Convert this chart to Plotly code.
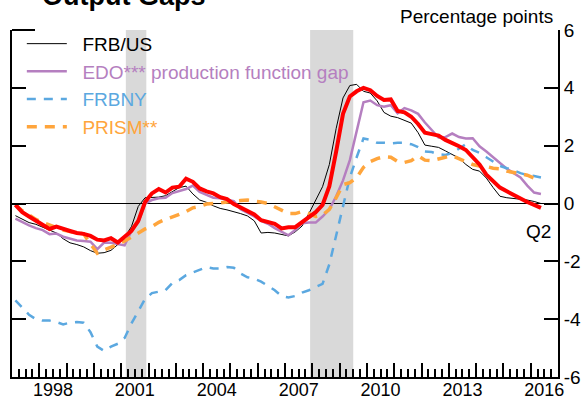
import plotly.graph_objects as go

# Quarterly data 1997Q1 .. 2016Q2
quarters = [f"{y}Q{q}" for y in range(1997, 2017) for q in range(1, 5)][:78]

frbus = [-0.42, -0.55, -0.66, -0.72, -0.82, -0.90, -1.02, -1.22, -1.36, -1.42, -1.50, -1.63,
         -1.72, -1.70, -1.62, -1.42, -1.17, -0.80, -0.10, 0.20, 0.20, 0.22, 0.27, 0.42,
         0.55, 0.60, 0.33, 0.12, 0.04, -0.08, -0.17, -0.22, -0.28, -0.35, -0.43, -0.60,
         -1.02, -1.00, -1.02, -1.06, -1.12, -0.98, -0.78, -0.35, 0.10, 0.58, 1.35, 2.60,
         3.65, 4.08, 4.12, 3.88, 3.82, 3.55, 3.15, 3.02, 2.97, 2.88, 2.78, 2.45,
         2.02, 1.98, 1.94, 1.82, 1.70, 1.57, 1.35, 1.18, 1.12, 0.88, 0.55, 0.25,
         0.20, 0.18, 0.14, 0.12, 0.07, 0.00]

edo = [-0.52, -0.65, -0.76, -0.85, -0.92, -1.06, -1.04, -1.15, -1.22, -1.28, -1.30, -1.32,
       -1.58, -1.35, -1.36, -1.40, -1.45, -0.95, -0.65, 0.00, 0.12, 0.18, 0.20, 0.36,
       0.44, 0.50, 0.62, 0.40, 0.30, 0.20, 0.18, 0.12, 0.08, -0.20, -0.32, -0.45,
       -0.60, -0.70, -0.85, -0.98, -1.10, -0.92, -0.68, -0.66, -0.66, -0.45, -0.20, 0.25,
       0.80, 1.50, 2.50, 3.50, 3.56, 3.40, 3.35, 3.40, 3.12, 3.30, 3.22, 3.10,
       2.80, 2.55, 2.28, 2.30, 2.42, 2.30, 2.25, 2.26, 1.98, 1.80, 1.60, 1.38,
       1.20, 1.05, 0.90, 0.62, 0.38, 0.33]

frbny = [-3.35, -3.60, -3.85, -4.00, -4.05, -4.05, -4.10, -4.18, -4.12, -4.10, -4.12, -4.45,
         -4.95, -5.10, -4.95, -4.85, -4.65, -4.15, -3.70, -3.30, -3.10, -3.05, -3.00, -2.75,
         -2.65, -2.48, -2.38, -2.30, -2.20, -2.25, -2.25, -2.20, -2.22, -2.42, -2.55, -2.60,
         -2.70, -2.85, -3.00, -3.20, -3.25, -3.20, -3.08, -3.00, -2.90, -2.78, -2.10, -1.10,
         -0.20, 0.90, 1.60, 2.25, 2.20, 2.10, 2.10, 2.08, 2.10, 2.10, 2.05, 1.95,
         1.80, 1.78, 1.70, 1.68, 1.75, 1.90, 2.05, 1.85, 1.75, 1.60, 1.45, 1.30,
         1.22, 1.15, 1.05, 0.98, 0.95, 0.90]

prism = [-0.05, -0.25, -0.40, -0.55, -0.65, -0.75, -0.85, -0.92, -0.97, -1.00, -1.05, -1.40,
         -1.72, -1.60, -1.52, -1.42, -1.30, -1.15, -1.00, -0.88, -0.80, -0.65, -0.55, -0.48,
         -0.38, -0.28, -0.15, -0.10, -0.02, 0.00, 0.03, 0.06, 0.08, 0.10, 0.12, 0.10,
         0.05, 0.00, -0.12, -0.25, -0.35, -0.35, -0.28, -0.35, -0.45, -0.40, -0.20, 0.20,
         0.65, 0.72, 0.90, 1.25, 1.45, 1.55, 1.62, 1.60, 1.45, 1.42, 1.48, 1.65,
         1.50, 1.48, 1.55, 1.60, 1.65, 1.55, 1.45, 1.35, 1.30, 1.28, 1.22, 1.20,
         1.12, 1.07, 1.02, 0.98, 0.88, 0.80]

composite = [-0.05, -0.30, -0.45, -0.60, -0.72, -0.88, -0.80, -0.86, -0.95, -1.02, -1.05, -1.12,
             -1.25, -1.28, -1.20, -1.35, -1.17, -0.95, -0.60, 0.05, 0.35, 0.50, 0.38, 0.55,
             0.58, 0.86, 0.75, 0.52, 0.42, 0.35, 0.22, 0.15, -0.02, -0.15, -0.28, -0.38,
             -0.58, -0.65, -0.70, -0.86, -0.82, -0.82, -0.65, -0.50, -0.30, -0.05, 0.60, 1.80,
             3.10, 3.70, 3.88, 4.00, 3.92, 3.72, 3.58, 3.60, 3.20, 3.15, 3.00, 2.75,
             2.45, 2.40, 2.35, 2.20, 2.10, 1.98, 1.85, 1.62, 1.35, 1.00, 0.75, 0.55,
             0.42, 0.30, 0.15, 0.05, -0.05, -0.15]

recessions = [(2001.17, 2001.92), (2007.92, 2009.5)]
year_labels = ["1998", "2001", "2004", "2007", "2010", "2013", "2016"]
y_ticks = [6, 4, 2, 0, -2, -4, -6]
y_ticktext = ["6", "4", "2", "0", "-2", "-4", "-6"]

# decimal-year position of each quarter (mid-quarter)
xq = [int(q[:4]) + (int(q[5]) - 0.5) / 4 for q in quarters]

C_BLACK = "#000000"
C_PURPLE = "#b57fc0"
C_BLUE = "#5ba8e0"
C_ORANGE = "#ffa53c"
C_RED = "#ff0000"

FONT = "Liberation Sans, Arial, sans-serif"
PAD = "&nbsp;&nbsp;"

fig = go.Figure()

fig.add_trace(go.Scatter(x=xq, y=frbus, mode="lines",
                         line=dict(color=C_BLACK, width=1),
                         name=f'{PAD}<span style="color:{C_BLACK}">FRB/US</span>'))
fig.add_trace(go.Scatter(x=xq, y=edo, mode="lines",
                         line=dict(color=C_PURPLE, width=2.5),
                         name=f'{PAD}<span style="color:{C_PURPLE}">EDO*** production function gap</span>'))
fig.add_trace(go.Scatter(x=xq, y=frbny, mode="lines",
                         line=dict(color=C_BLUE, width=2.5, dash="9px,8px"),
                         name=f'{PAD}<span style="color:{C_BLUE}">FRBNY</span>'))
fig.add_trace(go.Scatter(x=xq, y=prism, mode="lines",
                         line=dict(color=C_ORANGE, width=3.5, dash="10px,8px"),
                         name=f'{PAD}<span style="color:{C_ORANGE}">PRISM**</span>'))
fig.add_trace(go.Scatter(x=xq, y=composite, mode="lines",
                         line=dict(color=C_RED, width=4), showlegend=False))
# invisible trace to activate xaxis2 (labels at mid-year)
fig.add_trace(go.Scatter(x=[1997, 2017], y=[None, None], xaxis="x2", showlegend=False,
                         hoverinfo="skip"))

for (a, b) in recessions:
    fig.add_shape(type="rect", xref="x", yref="paper", x0=a, x1=b, y0=0, y1=1,
                  fillcolor="#d9d9d9", line=dict(width=0), layer="below")

# longer top-left tick
fig.add_shape(type="line", xref="paper", yref="paper", x0=0, x1=23 / 546, y0=1, y1=1,
              line=dict(color="black", width=2))

fig.update_layout(
    width=587, height=403,
    margin=dict(l=12, r=29, t=30, b=26, autoexpand=False),
    paper_bgcolor="white", plot_bgcolor="white",
    font=dict(family=FONT, size=19, color="black"),
    showlegend=True,
    legend=dict(x=0.018, y=1.015, xanchor="left", yanchor="top",
                bgcolor="rgba(0,0,0,0)", font=dict(size=19), itemwidth=40,
                tracegroupgap=0),
    xaxis=dict(range=[1997, 2017], showgrid=False, zeroline=False, automargin=False,
               showline=True, linecolor="black", linewidth=2,
               tickvals=list(range(1997, 2018)), ticktext=[""] * 21,
               ticks="inside", ticklen=14, tickwidth=2, tickcolor="black",
               minor=dict(dtick=0.25, tick0=1997, ticks="inside", ticklen=8,
                          tickwidth=1.5, tickcolor="black", showgrid=False)),
    xaxis2=dict(range=[1997, 2017], overlaying="x", anchor="y", side="bottom",
                showgrid=False, zeroline=False, showline=False, automargin=False,
                tickvals=[int(y) + 0.5 for y in year_labels], ticktext=year_labels,
                ticks="", tickfont=dict(size=18)),
    yaxis=dict(range=[-6, 6], side="right", showgrid=False, automargin=False,
               zeroline=True, zerolinecolor="black", zerolinewidth=1,
               showline=True, linecolor="black", linewidth=2, mirror="ticks",
               tickvals=y_ticks, ticktext=y_ticktext,
               ticks="inside", ticklen=14, tickwidth=2, tickcolor="black",
               tickfont=dict(size=19)),
    annotations=[
        dict(text="<b>Output Gaps</b>", xref="paper", yref="paper", x=28 / 546, y=1.099,
             xanchor="left", yanchor="middle", showarrow=False, font=dict(size=27)),
        dict(text="Percentage points", xref="paper", yref="paper", x=543 / 546, y=1.0375,
             xanchor="right", yanchor="middle", showarrow=False, font=dict(size=19)),
        dict(text="Q2", xref="x", yref="y", x=2016.27, y=-0.97,
             xanchor="center", yanchor="middle", showarrow=False, font=dict(size=19)),
    ],
)

fig.write_html("out.html", config={"displayModeBar": False},
               post_script="document.body.style.margin='0';document.body.style.padding='0';")
